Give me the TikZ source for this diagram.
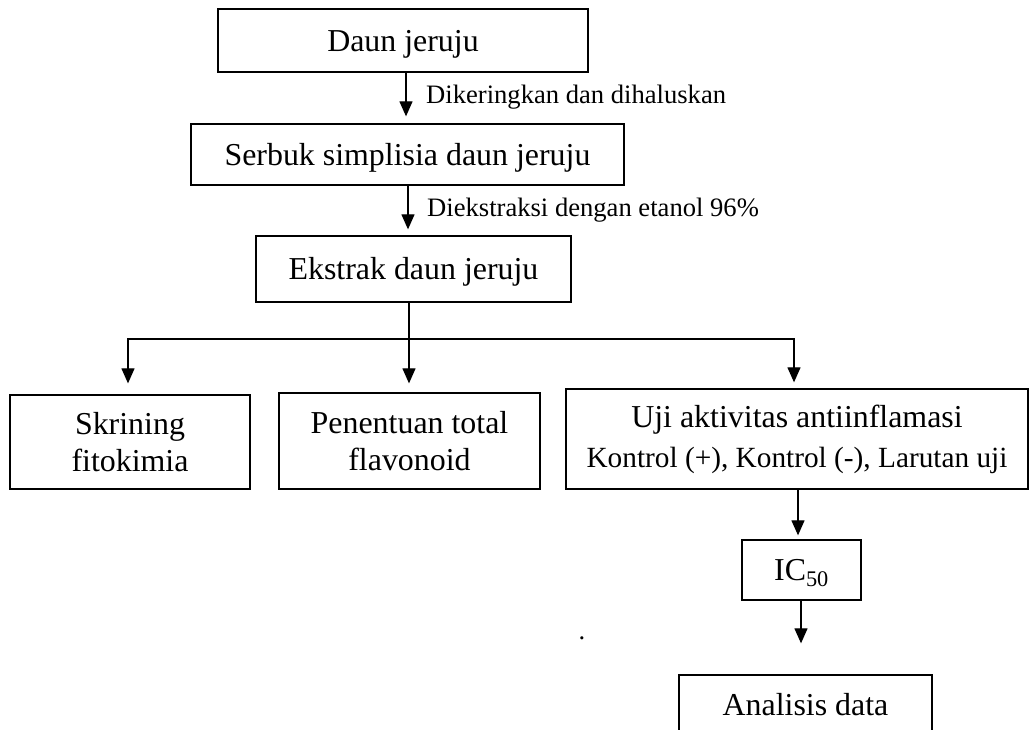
\documentclass[tikz,border=0pt]{standalone}
\usepackage{fontspec}
\setmainfont{Liberation Serif}
\usetikzlibrary{arrows.meta}
\begin{document}
\begin{tikzpicture}[x=1pt,y=-1pt,
  box/.style={draw, line width=1.3pt, inner sep=0pt, align=center, font=\fontsize{31.9}{37.2}\selectfont},
  one/.style={text height=21.1pt, text depth=0pt},
  lab/.style={anchor=west, inner sep=0pt, text height=17.6pt, text depth=0pt, font=\fontsize{26.6}{31}\selectfont},
  arr/.style={line width=1.2pt, -{Triangle[width=13pt,length=15pt]}},
  ln/.style={line width=1.2pt}]
\useasboundingbox (0,0) rectangle (1030,729);
\clip (0,0) rectangle (1030,729);

\node[box,one,minimum width=370pt,minimum height=63pt] (b1) at (403,40.5) {Daun jeruju};
\node[box,one,minimum width=433pt,minimum height=61pt] (b2) at (407.5,154.5) {Serbuk simplisia daun jeruju};
\node[box,one,minimum width=315pt,minimum height=66pt] (b3) at (413.5,269) {Ekstrak daun jeruju};
\node[box,minimum width=240pt,minimum height=94pt] (bA) at (130,442) {Skrining\\fitokimia};
\node[box,minimum width=261pt,minimum height=96pt] (bB) at (409.5,441) {Penentuan total\\flavonoid};
\node[box,minimum width=462pt,minimum height=100pt,font=\fontsize{31.9}{40}\selectfont] (bU) at (797,439)
  {Uji aktivitas antiinflamasi\\{\fontsize{29.3}{40}\selectfont Kontrol (+), Kontrol (-), Larutan uji}};
\node[box,one,minimum width=119pt,minimum height=60pt] (ic) at (801.5,570) {IC\textsubscript{50}};
\node[box,one,minimum width=253pt,minimum height=60pt] (an) at (805.5,705) {Analisis data};
\node[inner sep=0pt,anchor=base,font=\fontsize{26.6}{31}\selectfont] (dot) at (582,639) {.};

\node[lab] (l1) at (426,95) {Dikeringkan dan dihaluskan};
\node[lab] (l2) at (427,207.5) {Diekstraksi dengan etanol 96\%};

\coordinate (x1) at (406,0);
\coordinate (x2) at (408,0);
\coordinate (x3) at (798,0);
\coordinate (x4) at (801,0);
\coordinate (j) at (409,339);

\draw[arr, shorten >=7pt] (b1.south -| x1) -- (b2.north -| x1);
\draw[arr, shorten >=6pt] (b2.south -| x2) -- (b3.north -| x2);
\draw[ln] (b3.south -| j) -- (j);
\draw[arr, shorten >=11pt] (j) -| ([xshift=-2pt]bA.north);
\draw[arr, shorten >=9pt] (j) -- (bB.north -| j);
\draw[arr, shorten >=6pt] (j) -| ([xshift=-3pt]bU.north);
\draw[arr, shorten >=4pt] (bU.south -| x3) -- (ic.north -| x3);
\draw[arr, shorten >=31pt] (ic.south -| x4) -- (an.north -| x4);
\end{tikzpicture}
\end{document}
